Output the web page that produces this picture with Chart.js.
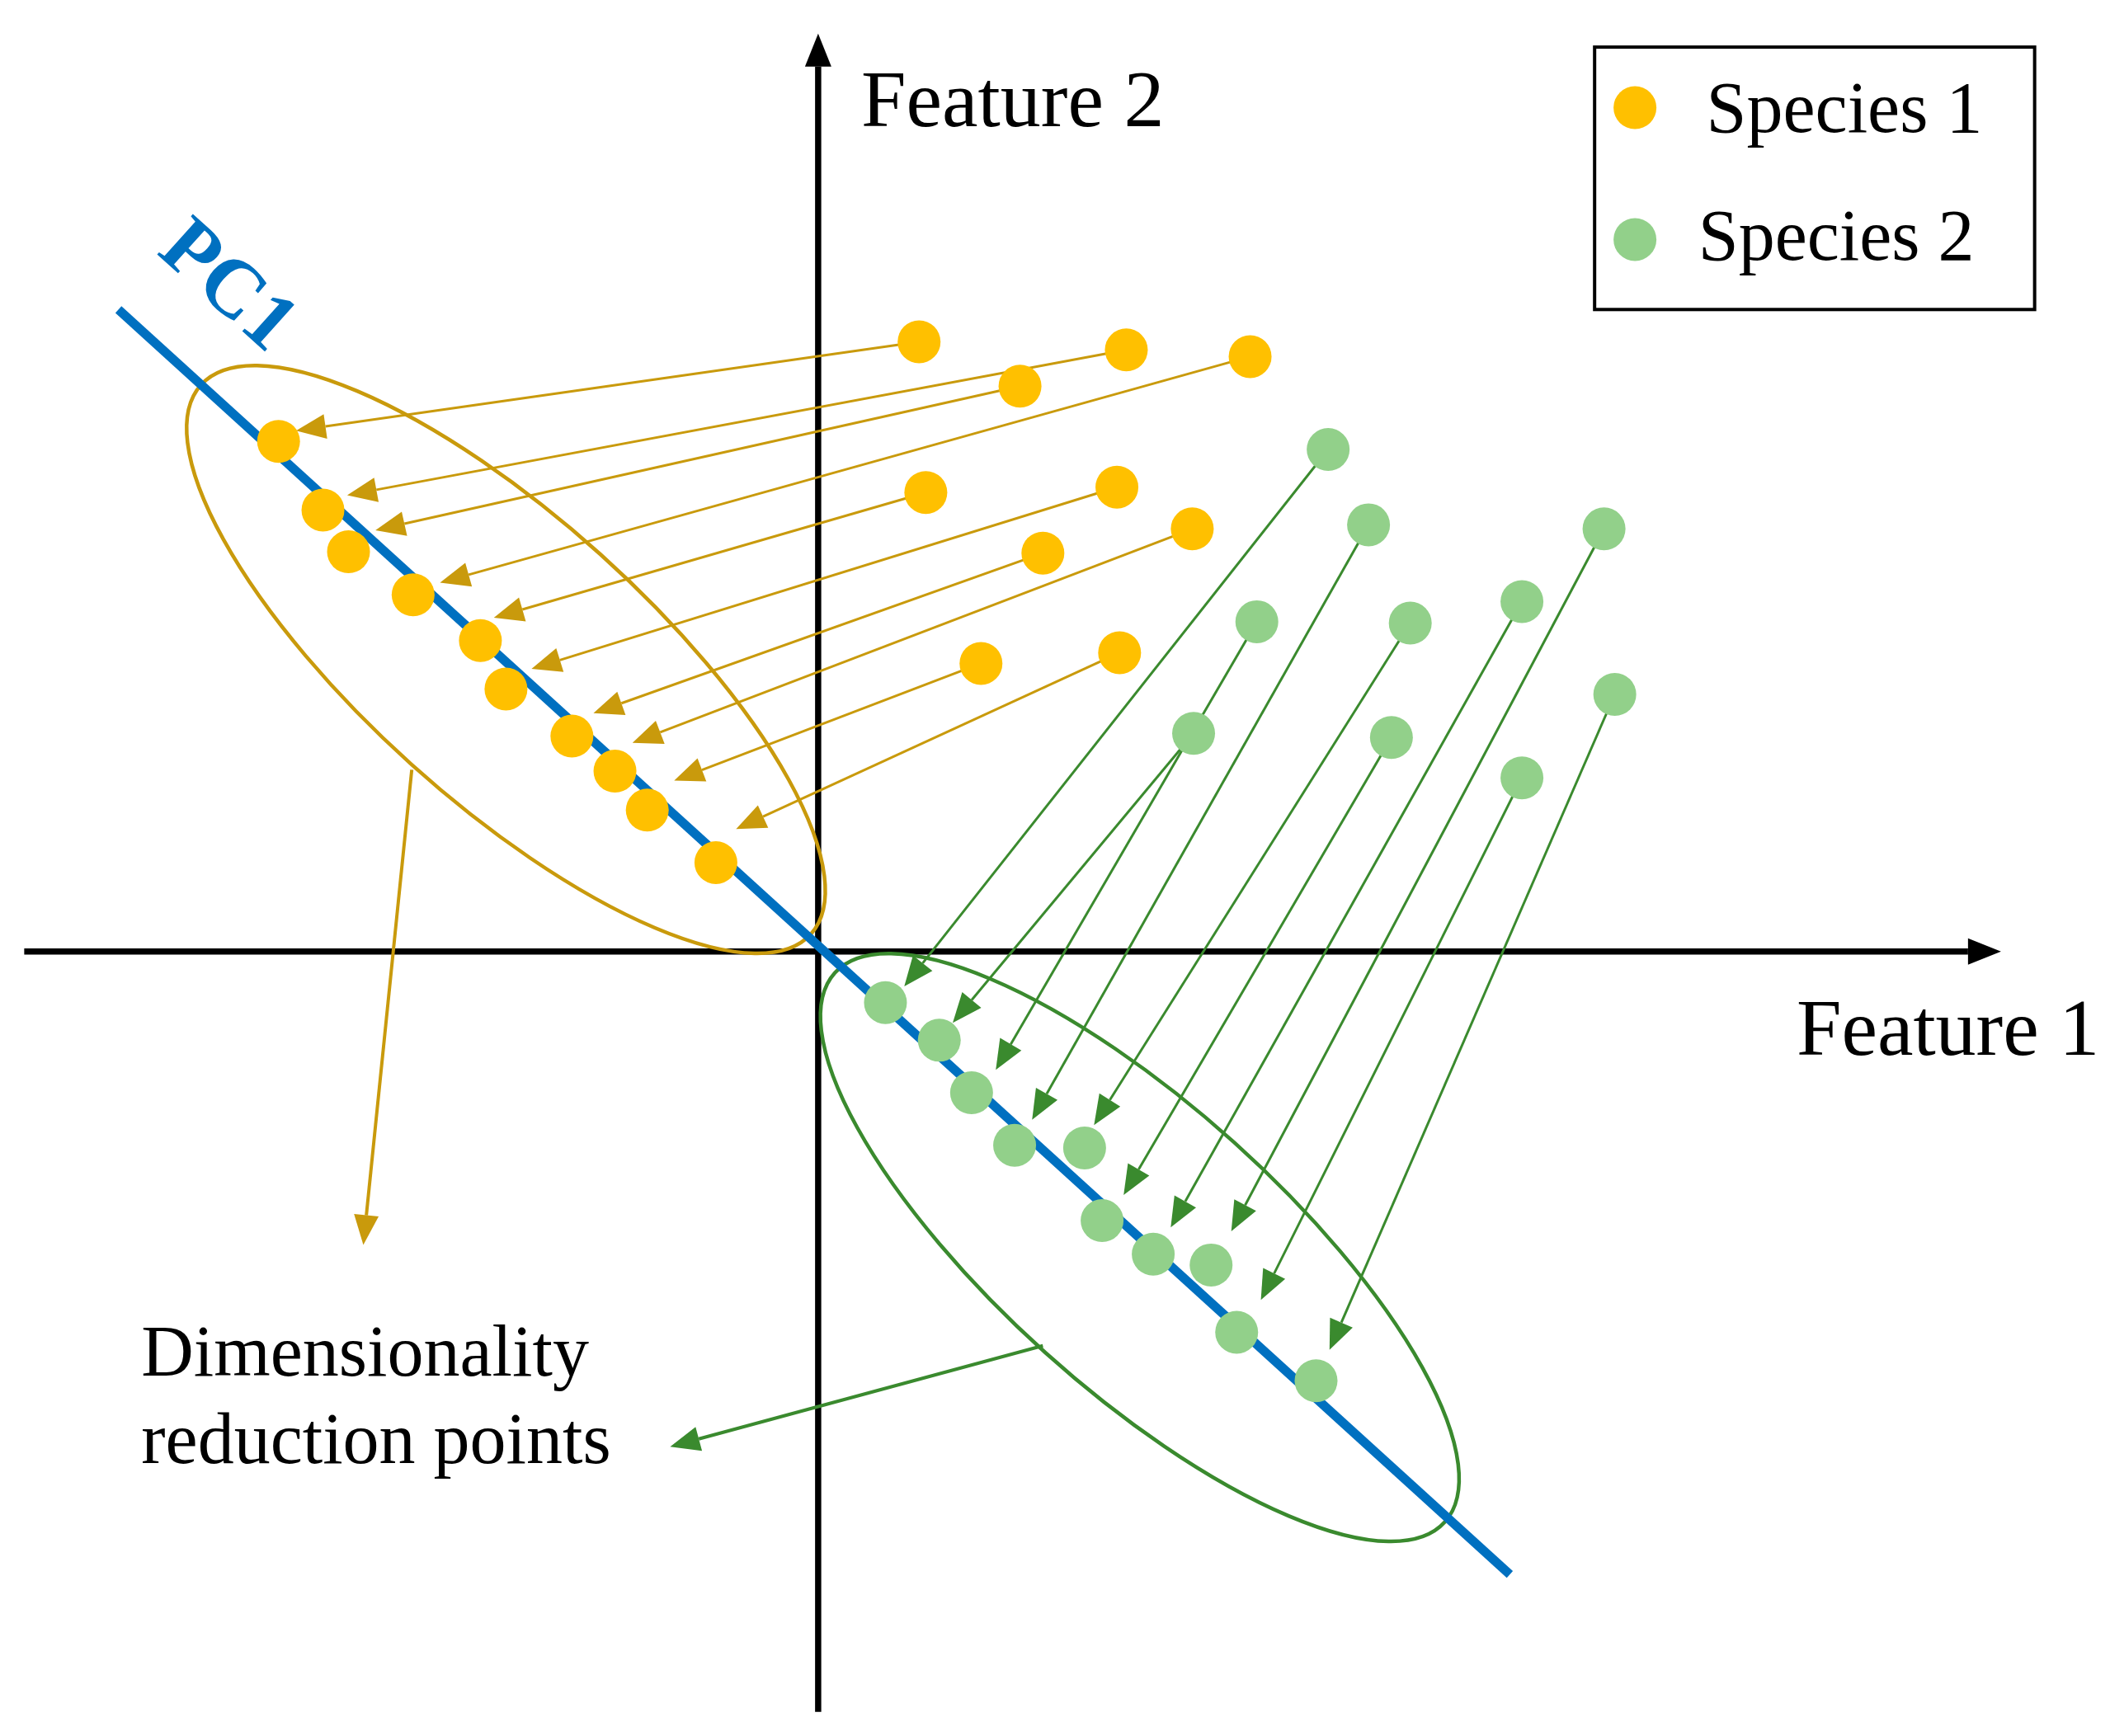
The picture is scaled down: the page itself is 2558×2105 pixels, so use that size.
<!DOCTYPE html>
<html>
<head>
<meta charset="utf-8">
<title>PCA projection</title>
<script src="https://cdn.jsdelivr.net/npm/chart.js@4.4.1/dist/chart.umd.min.js"></script>
<style>
    html, body { margin: 0; padding: 0; background: #ffffff; }
    #wrap { width: 2558px; height: 2105px; position: relative; }
</style>
</head>
<body>
<div id="wrap"><canvas id="pca-chart"></canvas></div>
<script>
// Species 1 : points d'origine (dans l'ordre des flèches)
const species1X = [0.75, 2.29, 1.50, 3.21, 0.80, 2.22, 1.67, 2.78, 1.21, 2.24];
const species1Y = [4.53, 4.47, 4.20, 4.42, 3.41, 3.45, 2.96, 3.14, 2.14, 2.22];
// Species 1 : points projetés sur PC1
const species1PcX = [-4.01, -3.68, -3.49, -3.01, -2.51, -2.32, -1.83, -1.51, -1.27, -0.76];
const species1PcY = [3.79, 3.28, 2.97, 2.65, 2.31, 1.95, 1.60, 1.34, 1.05, 0.66];
// Species 1 : pointes des flèches
const species1TipX = [-3.88, -3.50, -3.29, -2.81, -2.41, -2.13, -1.67, -1.38, -1.07, -0.61];
const species1TipY = [3.87, 3.39, 3.13, 2.74, 2.48, 2.10, 1.77, 1.55, 1.27, 0.91];

// Species 2 : points d'origine
const species2X = [3.79, 2.79, 3.26, 4.09, 4.40, 4.26, 5.23, 5.84, 5.23, 5.92];
const species2Y = [3.73, 1.62, 2.45, 3.17, 2.44, 1.59, 2.60, 3.14, 1.29, 1.91];
// Species 2 : points projetés sur PC1
const species2PcX = [0.50, 0.90, 1.14, 1.46, 1.98, 2.11, 2.49, 2.92, 3.11, 3.70];
const species2PcY = [-0.38, -0.66, -1.05, -1.44, -1.46, -2.00, -2.25, -2.33, -2.83, -3.19];
// Species 2 : pointes des flèches
const species2TipX = [0.64, 1.00, 1.32, 1.59, 2.05, 2.27, 2.62, 3.07, 3.29, 3.80];
const species2TipY = [-0.26, -0.53, -0.88, -1.25, -1.29, -1.81, -2.05, -2.08, -2.59, -2.96];

// Droite PC1 (deux extrémités)
const pc1X = [-5.20, 5.14];
const pc1Y = [4.77, -4.63];

// Étendue des axes Feature 1 / Feature 2
const feature1Axis = [-5.90, 8.79];
const feature2Axis = [-5.65, 6.82];

// Ellipses des points réduits : centre x, centre y, demi-axes
const ellipseCenters = [[-2.32, 2.17], [2.39, -2.20]];
const ellipseAxes = [3.05, 1.05];

// Flèches d'annotation (départ sur l'ellipse -> pointe)
const noteArrowFrom = [[-3.02, 1.35], [1.67, -2.93]];
const noteArrowTo = [[-3.38, -2.18], [-1.10, -3.68]];

const seriesNames = ['Species 1', 'Species 2'];

const ORANGE = '#FFC000';
const ORANGE_LINE = '#C99A0C';
const GREEN = '#92D08A';
const GREEN_LINE = '#3A8A2E';
const BLUE = '#0070C0';
const SERIF = '"Liberation Serif", "Times New Roman", serif';

function toPoints(xs, ys) {
    return xs.map((x, i) => ({ x: x, y: ys[i] }));
}

function drawArrow(ctx, x1, y1, x2, y2, color, width, headLen, headHalf) {
    const ang = Math.atan2(y2 - y1, x2 - x1);
    const bx = x2 - Math.cos(ang) * headLen;
    const by = y2 - Math.sin(ang) * headLen;
    ctx.strokeStyle = color;
    ctx.lineWidth = width;
    ctx.beginPath();
    ctx.moveTo(x1, y1);
    ctx.lineTo(bx, by);
    ctx.stroke();
    ctx.fillStyle = color;
    ctx.beginPath();
    ctx.moveTo(x2, y2);
    ctx.lineTo(bx - Math.sin(ang) * headHalf, by + Math.cos(ang) * headHalf);
    ctx.lineTo(bx + Math.sin(ang) * headHalf, by - Math.cos(ang) * headHalf);
    ctx.closePath();
    ctx.fill();
}

// Plugin : axes, flèches, ellipses, textes et légende
const pcaDecor = {
    id: 'pcaDecor',
    beforeDatasetsDraw(chart) {
        const ctx = chart.ctx;
        const px = v => chart.scales.x.getPixelForValue(v);
        const py = v => chart.scales.y.getPixelForValue(v);
        const unit = px(1) - px(0);
        ctx.save();

        // axes avec flèche
        drawArrow(ctx, px(feature1Axis[0]), py(0), px(feature1Axis[1]), py(0), '#000', 7.5, 40, 16);
        drawArrow(ctx, px(0), py(feature2Axis[0]), px(0), py(feature2Axis[1]), '#000', 7.5, 40, 16);

        // flèches de projection
        species1X.forEach((x, i) => {
            drawArrow(ctx, px(x), py(species1Y[i]), px(species1TipX[i]), py(species1TipY[i]), ORANGE_LINE, 3, 36, 15);
        });
        species2X.forEach((x, i) => {
            drawArrow(ctx, px(x), py(species2Y[i]), px(species2TipX[i]), py(species2TipY[i]), GREEN_LINE, 3, 36, 15);
        });

        // ellipses
        const ellColors = [ORANGE_LINE, GREEN_LINE];
        ellipseCenters.forEach((c, i) => {
            ctx.strokeStyle = ellColors[i];
            ctx.lineWidth = 4.5;
            ctx.beginPath();
            ctx.ellipse(px(c[0]), py(c[1]), ellipseAxes[0] * unit, ellipseAxes[1] * unit, 42 * Math.PI / 180, 0, Math.PI * 2);
            ctx.stroke();
        });

        // flèches d'annotation
        noteArrowFrom.forEach((f, i) => {
            const t = noteArrowTo[i];
            drawArrow(ctx, px(f[0]), py(f[1]), px(t[0]), py(t[1]), ellColors[i], 4, 36, 15);
        });
        ctx.restore();
    },
    afterDatasetsDraw(chart) {
        const ctx = chart.ctx;
        const px = v => chart.scales.x.getPixelForValue(v);
        const py = v => chart.scales.y.getPixelForValue(v);
        ctx.save();
        ctx.fillStyle = '#000';
        ctx.textAlign = 'left';
        ctx.textBaseline = 'alphabetic';

        ctx.font = '98px ' + SERIF;
        ctx.fillText('Feature 2', px(0.32), py(6.13));
        ctx.fillText('Feature 1', px(7.27), py(-0.77));

        ctx.font = '88px ' + SERIF;
        ctx.fillText('Dimensionality', px(-5.03), py(-3.15));
        ctx.fillText('reduction points', px(-5.03), py(-3.80));

        // étiquette PC1
        ctx.save();
        ctx.translate(px(-4.40), py(4.93));
        ctx.rotate(42 * Math.PI / 180);
        ctx.font = 'bold 100px ' + SERIF;
        ctx.fillStyle = BLUE;
        ctx.textAlign = 'center';
        ctx.textBaseline = 'middle';
        ctx.fillText('PC1', 0, 0);
        ctx.restore();

        // légende
        const x0 = px(5.77), y0 = py(6.72), x1 = px(9.04), y1 = py(4.77);
        ctx.strokeStyle = '#000';
        ctx.lineWidth = 4;
        ctx.strokeRect(x0, y0, x1 - x0, y1 - y0);
        const legColors = [ORANGE, GREEN];
        const legY = [6.27, 5.29];
        const legTextX = [6.60, 6.54];
        const legBase = [6.09, 5.14];
        ctx.font = '88px ' + SERIF;
        seriesNames.forEach((name, i) => {
            ctx.fillStyle = legColors[i];
            ctx.beginPath();
            ctx.arc(px(6.07), py(legY[i]), 26, 0, Math.PI * 2);
            ctx.fill();
            ctx.fillStyle = '#000';
            ctx.fillText(name, px(legTextX[i]), py(legBase[i]));
        });
        ctx.restore();
    }
};

const ctx = document.getElementById('pca-chart').getContext('2d');
const pcaChart = new Chart(ctx, {
    type: 'scatter',
    data: {
        datasets: [
            {
                label: 'Species 1',
                data: toPoints(species1X, species1Y),
                backgroundColor: ORANGE,
                borderWidth: 0,
                pointRadius: 26
            },
            {
                label: 'Species 1 (PC1)',
                data: toPoints(species1PcX, species1PcY),
                backgroundColor: ORANGE,
                borderWidth: 0,
                pointRadius: 26
            },
            {
                label: 'Species 2',
                data: toPoints(species2X, species2Y),
                backgroundColor: GREEN,
                borderWidth: 0,
                pointRadius: 26
            },
            {
                label: 'Species 2 (PC1)',
                data: toPoints(species2PcX, species2PcY),
                backgroundColor: GREEN,
                borderWidth: 0,
                pointRadius: 26
            },
            {
                label: 'PC1',
                data: toPoints(pc1X, pc1Y),
                showLine: true,
                borderColor: BLUE,
                borderWidth: 11,
                borderCapStyle: 'butt',
                pointRadius: 0
            }
        ]
    },
    options: {
        responsive: true,
        maintainAspectRatio: false,
        animation: false,
        layout: { padding: 0, autoPadding: false },
        plugins: {
            legend: { display: false },
            tooltip: { enabled: false }
        },
        scales: {
            x: { type: 'linear', min: -6.08, max: 9.60, display: false },
            y: { type: 'linear', min: -5.83, max: 7.07, display: false }
        }
    },
    plugins: [pcaDecor]
});
</script>
</body>
</html>
